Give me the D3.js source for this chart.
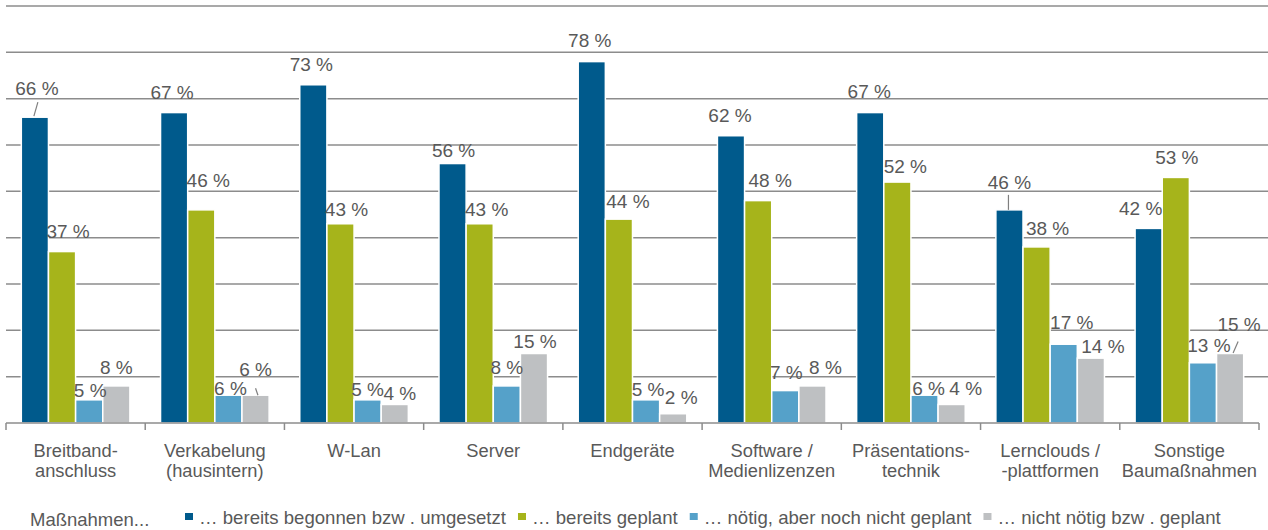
<!DOCTYPE html>
<html>
<head>
<meta charset="utf-8">
<script src="https://cdn.jsdelivr.net/npm/d3@7"></script>
<style>
  body { margin: 0; background: #fff; }
  text { font-family: "Liberation Sans", Arial, sans-serif; fill: #595959; }
</style>
</head>
<body>
<svg id="chart" width="1268" height="530"></svg>
<script>
(() => {
  'use strict';

  // category labels, one entry per line
  const categories = [
    ["Breitband-", "anschluss"],
    ["Verkabelung", "(hausintern)"],
    ["W-Lan"],
    ["Server"],
    ["Endgeräte"],
    ["Software /", "Medienlizenzen"],
    ["Präsentations-", "technik"],
    ["Lernclouds /", "-plattformen"],
    ["Sonstige", "Baumaßnahmen"]
  ];

  const seriesNames = [
    "… bereits begonnen bzw . umgesetzt",
    "… bereits geplant",
    "… nötig, aber noch nicht geplant",
    "… nicht nötig bzw . geplant"
  ];

  // values in %
  const started    = [66, 67, 73, 56, 78, 62, 67, 46, 42];
  const planned    = [37, 46, 43, 43, 44, 48, 52, 38, 53];
  const needed     = [ 5,  6,  5,  8,  5,  7,  6, 17, 13];
  const notNeeded  = [ 8,  6,  4, 15,  2,  8,  4, 14, 15];

  const yTicks = [10, 20, 30, 40, 50, 60, 70, 80, 90];

  const series = [started, planned, needed, notNeeded];
  const colors = ["#005a8c", "#a6b41b", "#55a1c9", "#bec0c2"];

  // label placement (manually moved labels in the original), [dx, dy] from bar top centre
  const labelShift = [
    [[2, -22], [6, -14], [1, -3], [0, -12]],
    [[-2, -14], [7, -23], [2, 0], [0, -19]],
    [[-2, -14], [6, -8], [0, -4], [5, -4]],
    [[1, -7], [7, -8], [0, -12], [1, -6]],
    [[-2, -15], [9, -11], [2, -4], [8, -10]],
    [[-1, -14], [12, -14], [1, -12], [13, -12]],
    [[-1, -15], [8, -9], [4, 0], [14, -9]],
    [[0, -21], [11, -12], [8, -15], [12, -5]],
    [[-8, -13], [1, -13], [6, -11], [9, -23]]
  ];
  // leader lines: [cat, series, x1, y1, x2, y2] relative to bar top centre
  const leaders = [
    [0, 0, -1, -1, 3, -15],
    [1, 3, 2.4, 0, 0, -7],
    [7, 0, -1, 0, -1, -15],
    [8, 3, 3, -0.5, 8, -12]
  ];

  const svg = d3.select("#chart");
  const left = 6, right = 1259, top = 6, base = 423;

  const x0 = d3.scaleBand()
    .domain(d3.range(categories.length))
    .range([left, right])
    .paddingInner(0.22)
    .paddingOuter(0.11);
  const x1 = d3.scaleBand()
    .domain(d3.range(series.length))
    .range([0, x0.bandwidth()]);
  const y = d3.scaleLinear().domain([0, 90]).range([base, top]);

  // gridlines
  svg.append("g")
    .selectAll("line")
    .data(yTicks)
    .join("line")
      .attr("x1", left).attr("x2", 1268)
      .attr("y1", d => y(d)).attr("y2", d => y(d))
      .attr("stroke", "#8c8c8c")
      .attr("stroke-width", 1.5);

  // bars
  const groups = svg.append("g")
    .selectAll("g")
    .data(categories)
    .join("g")
      .attr("transform", (d, i) => `translate(${x0(i)},0)`);

  groups.selectAll("rect")
    .data((d, i) => series.map((s, j) => ({ i, j, v: s[i] })))
    .join("rect")
      .attr("x", d => x1(d.j))
      .attr("y", d => y(d.v))
      .attr("width", x1.bandwidth())
      .attr("height", d => base - y(d.v))
      .attr("fill", d => colors[d.j])
      .attr("stroke", "#fff")
      .attr("stroke-width", 1.5);

  // axis line and boundary ticks
  svg.append("line")
    .attr("x1", left).attr("x2", right)
    .attr("y1", base).attr("y2", base)
    .attr("stroke", "#8c8c8c").attr("stroke-width", 1.5);
  svg.append("g")
    .selectAll("line")
    .data(d3.range(categories.length + 1))
    .join("line")
      .attr("x1", i => left + i * x0.step()).attr("x2", i => left + i * x0.step())
      .attr("y1", base).attr("y2", base + 7)
      .attr("stroke", "#8c8c8c").attr("stroke-width", 1.5);

  const barCenter = (i, j) => x0(i) + x1(j) + x1.bandwidth() / 2;

  // leader lines
  svg.append("g")
    .selectAll("line")
    .data(leaders)
    .join("line")
      .attr("x1", d => barCenter(d[0], d[1]) + d[2])
      .attr("y1", d => y(series[d[1]][d[0]]) + d[3])
      .attr("x2", d => barCenter(d[0], d[1]) + d[4])
      .attr("y2", d => y(series[d[1]][d[0]]) + d[5])
      .attr("stroke", "#7f7f7f").attr("stroke-width", 1.2);

  // value labels
  const labelData = [];
  categories.forEach((c, i) => series.forEach((s, j) => labelData.push({ i, j, v: s[i] })));
  svg.append("g")
    .selectAll("text")
    .data(labelData)
    .join("text")
      .attr("x", d => barCenter(d.i, d.j) + labelShift[d.i][d.j][0])
      .attr("y", d => y(d.v) + labelShift[d.i][d.j][1])
      .attr("text-anchor", "middle")
      .style("font-size", "19px")
      .text(d => d.v + " %");

  // category labels
  svg.append("g")
    .selectAll("text")
    .data(categories)
    .join("text")
      .attr("text-anchor", "middle")
      .style("font-size", "18.3px")
      .attr("transform", (d, i) => `translate(${x0(i) + x0.bandwidth() / 2},457)`)
    .selectAll("tspan")
    .data(d => d)
    .join("tspan")
      .attr("x", 0)
      .attr("y", (d, k) => k * 20)
      .text(d => d);

  // legend
  svg.append("text")
    .attr("x", 30).attr("y", 526)
    .style("font-size", "18.5px")
    .text("Maßnahmen...");

  let lx = 185;
  seriesNames.forEach((name, j) => {
    svg.append("rect")
      .attr("x", lx).attr("y", 513)
      .attr("width", 8).attr("height", 7)
      .attr("fill", colors[j]);
    let t = svg.append("text")
      .attr("x", lx + 14).attr("y", 524)
      .style("font-size", "18.6px")
      .text(name);
    lx += 14 + t.node().getComputedTextLength() + 12;
  });
})();
</script>
</body>
</html>
